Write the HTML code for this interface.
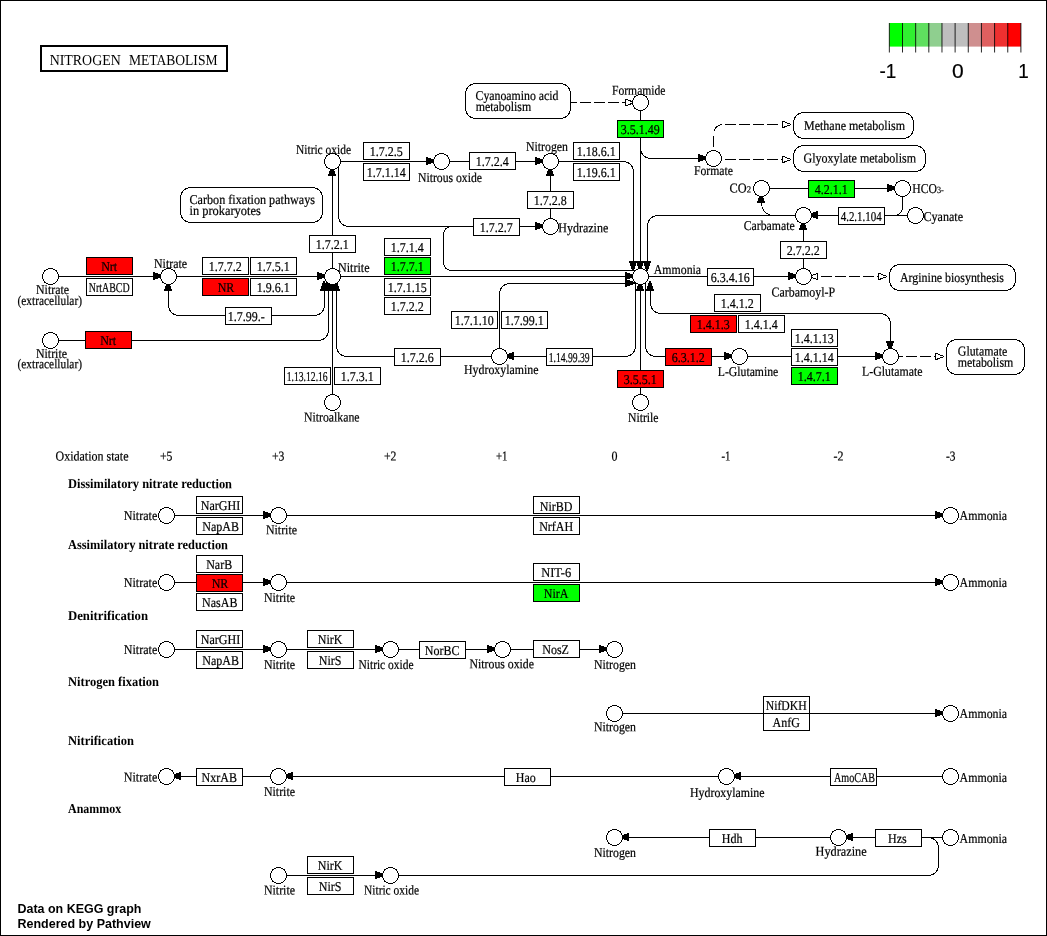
<!DOCTYPE html>
<html lang="en"><head><meta charset="utf-8"><title>Nitrogen metabolism</title>
<style>
html,body{margin:0;padding:0;background:#fff;}
body{width:1047px;height:936px;overflow:hidden;}
svg{display:block;will-change:transform;}
text{font-family:"Liberation Serif","Times New Roman",serif;font-size:13.5px;fill:#000;stroke:#000;stroke-width:0.2px;}
.ln{fill:none;stroke:#000;stroke-width:1;shape-rendering:crispEdges;}
.cv{fill:none;stroke:#000;stroke-width:1;shape-rendering:crispEdges;}
.bx{stroke:#000;stroke-width:1;shape-rendering:crispEdges;}
.cp{fill:#fff;stroke:#000;stroke-width:1;shape-rendering:crispEdges;}
.mp{fill:#fff;stroke:#000;stroke-width:1;shape-rendering:crispEdges;}
.ah{fill:#000;stroke:none;shape-rendering:crispEdges;}
.oh{fill:#fff;stroke:#000;stroke-width:1;stroke-linejoin:bevel;shape-rendering:crispEdges;}
.b{font-weight:bold;stroke:none;}
.t{stroke:none;}
.sans{font-family:"Liberation Sans",Arial,Helvetica,sans-serif;}
</style></head><body>
<svg width="1047" height="936" viewBox="0 0 1047 936">
<rect x="0" y="0" width="1047" height="936" fill="#fff"/>
<rect x="0.5" y="0.5" width="1046" height="935" fill="none" stroke="#000" stroke-width="1" shape-rendering="crispEdges"/>
<g transform="translate(0.5,0.5)">
<path class="cv" d="M50 276 L168 276"/>
<path class="cv" d="M50 340 L318 340 A10 10 0 0 0 328 330 L328 285"/>
<path class="cv" d="M168 276 L332 276"/>
<path class="cv" d="M168 276 L168 305 A10 10 0 0 0 178 315 L314 315 A10 10 0 0 0 324 305 L324 285"/>
<path class="cv" d="M332 276 L332 161"/>
<path class="cv" d="M332 161 L550 161"/>
<path class="cv" d="M550 161 L623 161 A10 10 0 0 1 633 171 L633 268"/>
<path class="cv" d="M550 226 L550 161"/>
<path class="cv" d="M338 161 L338 216 A10 10 0 0 0 348 226 L550 226"/>
<path class="cv" d="M473 226 L451 226 A8 8 0 0 0 443 234 L443 262 A8 8 0 0 0 451 270 L633 270"/>
<path class="cv" d="M332 276 L640 276"/>
<path class="cv" d="M499 356 L499 293 A10 10 0 0 1 509 283 L631 283"/>
<path class="cv" d="M635 276 L635 346 A10 10 0 0 1 625 356 L499 356"/>
<path class="cv" d="M499 356 L346 356 A10 10 0 0 1 336 346 L336 285"/>
<path class="cv" d="M332 402 L332 276"/>
<path class="cv" d="M640 402 L640 276"/>
<path class="cv" d="M645 276 L645 346 A10 10 0 0 0 655 356 L739 356"/>
<path class="cv" d="M739 356 L890 356"/>
<path class="cv" d="M650 284 L650 303 A10 10 0 0 0 660 313 L880 313 A10 10 0 0 1 890 323 L890 356"/>
<path class="cv" d="M640 276 L803 276"/>
<path class="cv" d="M803 276 L803 215"/>
<path class="cv" d="M803 215 L657 215 A10 10 0 0 0 647 225 L647 268"/>
<path class="cv" d="M775 215 L773 215 A12 12 0 0 1 761 203 L761 188"/>
<path class="cv" d="M761 188 L902 188"/>
<path class="cv" d="M915 215 L803 215"/>
<path class="cv" d="M902 188 L902 207 A8 8 0 0 1 894 215 L888 215"/>
<path class="cv" d="M640 102 L640 276"/>
<path class="cv" d="M640 143 L640 148 A10 10 0 0 0 650 158 L713 158"/>
<path class="cv" d="M166 515 L950 515"/>
<path class="cv" d="M166 582 L950 582"/>
<path class="cv" d="M166 649 L614 649"/>
<path class="cv" d="M614 713 L950 713"/>
<path class="cv" d="M166 776 L950 776"/>
<path class="cv" d="M614 837 L950 837"/>
<path class="cv" d="M278 875 L928 875 A10 10 0 0 0 938 865 L938 847 A10 10 0 0 0 928 837 L924 837"/>
</g>
<g class="ln">
<path stroke-dasharray="11 3" d="M565.6 102.5 H626"/>
<path stroke-dasharray="0 4 11 3 11 3 11 3 11 3 11 5.2 11 3" d="M782 124.5 H723 A9.5 9.5 0 0 0 713.5 134 V147.5"/>
<path stroke-dasharray="11 3" d="M725 159.5 H782"/>
<path stroke-dasharray="11 3" d="M821 276.5 H878"/>
<path stroke-dasharray="11 3" d="M891.8 356.5 H935"/>
</g>
<g class="ah">
<polygon points="153,272 155,272 155,273 158,273 158,274 161,274 161,275 163,275 163,277 161,277 161,278 158,278 158,279 155,279 155,280 153,280"/>
<polygon points="317,272 319,272 319,273 322,273 322,274 325,274 325,275 327,275 327,277 325,277 325,278 322,278 322,279 319,279 319,280 317,280"/>
<polygon points="426,157 428,157 428,158 431,158 431,159 434,159 434,160 436,160 436,162 434,162 434,163 431,163 431,164 428,164 428,165 426,165"/>
<polygon points="535,157 537,157 537,158 540,158 540,159 543,159 543,160 545,160 545,162 543,162 543,163 540,163 540,164 537,164 537,165 535,165"/>
<polygon points="535,222 537,222 537,223 540,223 540,224 543,224 543,225 545,225 545,227 543,227 543,228 540,228 540,229 537,229 537,230 535,230"/>
<polygon points="164,291 164,289 165,289 165,286 166,286 166,283 167,283 167,281 169,281 169,283 170,283 170,286 171,286 171,289 172,289 172,291"/>
<polygon points="320,291 320,289 321,289 321,286 322,286 322,283 323,283 323,281 325,281 325,283 326,283 326,286 327,286 327,289 328,289 328,291"/>
<polygon points="324,291 324,289 325,289 325,286 326,286 326,283 327,283 327,281 329,281 329,283 330,283 330,286 331,286 331,289 332,289 332,291"/>
<polygon points="328,291 328,289 329,289 329,286 330,286 330,283 331,283 331,281 333,281 333,283 334,283 334,286 335,286 335,289 336,289 336,291"/>
<polygon points="332,291 332,289 333,289 333,286 334,286 334,283 335,283 335,281 337,281 337,283 338,283 338,286 339,286 339,289 340,289 340,291"/>
<polygon points="328,176 328,174 329,174 329,171 330,171 330,168 331,168 331,166 333,166 333,168 334,168 334,171 335,171 335,174 336,174 336,176"/>
<polygon points="546,176 546,174 547,174 547,171 548,171 548,168 549,168 549,166 551,166 551,168 552,168 552,171 553,171 553,174 554,174 554,176"/>
<polygon points="629,261 629,263 630,263 630,266 631,266 631,269 632,269 632,271 634,271 634,269 635,269 635,266 636,266 636,263 637,263 637,261"/>
<polygon points="636,261 636,263 637,263 637,266 638,266 638,269 639,269 639,271 641,271 641,269 642,269 642,266 643,266 643,263 644,263 644,261"/>
<polygon points="643,261 643,263 644,263 644,266 645,266 645,269 646,269 646,271 648,271 648,269 649,269 649,266 650,266 650,263 651,263 651,261"/>
<polygon points="625,272 627,272 627,273 630,273 630,274 633,274 633,275 635,275 635,277 633,277 633,278 630,278 630,279 627,279 627,280 625,280"/>
<polygon points="625,279 627,279 627,280 630,280 630,281 633,281 633,282 635,282 635,284 633,284 633,285 630,285 630,286 627,286 627,287 625,287"/>
<polygon points="636,291 636,289 637,289 637,286 638,286 638,283 639,283 639,281 641,281 641,283 642,283 642,286 643,286 643,289 644,289 644,291"/>
<polygon points="646,291 646,289 647,289 647,286 648,286 648,283 649,283 649,281 651,281 651,283 652,283 652,286 653,286 653,289 654,289 654,291"/>
<polygon points="514,352 512,352 512,353 509,353 509,354 506,354 506,355 504,355 504,357 506,357 506,358 509,358 509,359 512,359 512,360 514,360"/>
<polygon points="724,352 726,352 726,353 729,353 729,354 732,354 732,355 734,355 734,357 732,357 732,358 729,358 729,359 726,359 726,360 724,360"/>
<polygon points="875,352 877,352 877,353 880,353 880,354 883,354 883,355 885,355 885,357 883,357 883,358 880,358 880,359 877,359 877,360 875,360"/>
<polygon points="886,341 886,343 887,343 887,346 888,346 888,349 889,349 889,351 891,351 891,349 892,349 892,346 893,346 893,343 894,343 894,341"/>
<polygon points="788,272 790,272 790,273 793,273 793,274 796,274 796,275 798,275 798,277 796,277 796,278 793,278 793,279 790,279 790,280 788,280"/>
<polygon points="799,230 799,228 800,228 800,225 801,225 801,222 802,222 802,220 804,220 804,222 805,222 805,225 806,225 806,228 807,228 807,230"/>
<polygon points="818,211 816,211 816,212 813,212 813,213 810,213 810,214 808,214 808,216 810,216 810,217 813,217 813,218 816,218 816,219 818,219"/>
<polygon points="757,203 757,201 758,201 758,198 759,198 759,195 760,195 760,193 762,193 762,195 763,195 763,198 764,198 764,201 765,201 765,203"/>
<polygon points="887,184 889,184 889,185 892,185 892,186 895,186 895,187 897,187 897,189 895,189 895,190 892,190 892,191 889,191 889,192 887,192"/>
<polygon points="698,154 700,154 700,155 703,155 703,156 706,156 706,157 708,157 708,159 706,159 706,160 703,160 703,161 700,161 700,162 698,162"/>
<polygon points="263,511 265,511 265,512 268,512 268,513 271,513 271,514 273,514 273,516 271,516 271,517 268,517 268,518 265,518 265,519 263,519"/>
<polygon points="935,511 937,511 937,512 940,512 940,513 943,513 943,514 945,514 945,516 943,516 943,517 940,517 940,518 937,518 937,519 935,519"/>
<polygon points="263,578 265,578 265,579 268,579 268,580 271,580 271,581 273,581 273,583 271,583 271,584 268,584 268,585 265,585 265,586 263,586"/>
<polygon points="935,578 937,578 937,579 940,579 940,580 943,580 943,581 945,581 945,583 943,583 943,584 940,584 940,585 937,585 937,586 935,586"/>
<polygon points="263,645 265,645 265,646 268,646 268,647 271,647 271,648 273,648 273,650 271,650 271,651 268,651 268,652 265,652 265,653 263,653"/>
<polygon points="375,645 377,645 377,646 380,646 380,647 383,647 383,648 385,648 385,650 383,650 383,651 380,651 380,652 377,652 377,653 375,653"/>
<polygon points="487,645 489,645 489,646 492,646 492,647 495,647 495,648 497,648 497,650 495,650 495,651 492,651 492,652 489,652 489,653 487,653"/>
<polygon points="599,645 601,645 601,646 604,646 604,647 607,647 607,648 609,648 609,650 607,650 607,651 604,651 604,652 601,652 601,653 599,653"/>
<polygon points="935,709 937,709 937,710 940,710 940,711 943,711 943,712 945,712 945,714 943,714 943,715 940,715 940,716 937,716 937,717 935,717"/>
<polygon points="181,772 179,772 179,773 176,773 176,774 173,774 173,775 171,775 171,777 173,777 173,778 176,778 176,779 179,779 179,780 181,780"/>
<polygon points="293,772 291,772 291,773 288,773 288,774 285,774 285,775 283,775 283,777 285,777 285,778 288,778 288,779 291,779 291,780 293,780"/>
<polygon points="741,772 739,772 739,773 736,773 736,774 733,774 733,775 731,775 731,777 733,777 733,778 736,778 736,779 739,779 739,780 741,780"/>
<polygon points="629,833 627,833 627,834 624,834 624,835 621,835 621,836 619,836 619,838 621,838 621,839 624,839 624,840 627,840 627,841 629,841"/>
<polygon points="853,833 851,833 851,834 848,834 848,835 845,835 845,836 843,836 843,838 845,838 845,839 848,839 848,840 851,840 851,841 853,841"/>
<polygon points="375,871 377,871 377,872 380,872 380,873 383,873 383,874 385,874 385,876 383,876 383,877 380,877 380,878 377,878 377,879 375,879"/>
</g>
<g class="oh">
<polygon points="625.5,99.1 625.5,105.9 634.5,102.5"/>
<polygon points="782.2,121.1 782.2,127.9 791.2,124.5"/>
<polygon points="782.2,156.1 782.2,162.9 791.2,159.5"/>
<polygon points="878.2,273.1 878.2,279.9 887.2,276.5"/>
<polygon points="817.6,273.3 817.6,279.7 808.6,276.5"/>
<polygon points="935.2,353.1 935.2,359.9 944.2,356.5"/>
</g>
<g class="cp">
<circle cx="50.5" cy="276.5" r="8"/>
<circle cx="50.5" cy="340.5" r="8"/>
<circle cx="168.5" cy="276.5" r="8"/>
<circle cx="332.5" cy="276.5" r="8"/>
<circle cx="332.5" cy="161.5" r="8"/>
<circle cx="441.5" cy="161.5" r="8"/>
<circle cx="550.5" cy="161.5" r="8"/>
<circle cx="550.5" cy="226.5" r="8"/>
<circle cx="640.5" cy="102.5" r="8"/>
<circle cx="713.5" cy="158.5" r="8"/>
<circle cx="761.5" cy="188.5" r="8"/>
<circle cx="902.5" cy="188.5" r="8"/>
<circle cx="803.5" cy="215.5" r="8"/>
<circle cx="915.5" cy="215.5" r="8"/>
<circle cx="640.5" cy="276.5" r="8"/>
<circle cx="803.5" cy="276.5" r="8"/>
<circle cx="499.5" cy="356.5" r="8"/>
<circle cx="739.5" cy="356.5" r="8"/>
<circle cx="890.5" cy="356.5" r="8"/>
<circle cx="332.5" cy="402.5" r="8"/>
<circle cx="640.5" cy="402.5" r="8"/>
<circle cx="166.5" cy="515.5" r="8"/>
<circle cx="278.5" cy="515.5" r="8"/>
<circle cx="950.5" cy="515.5" r="8"/>
<circle cx="166.5" cy="582.5" r="8"/>
<circle cx="278.5" cy="582.5" r="8"/>
<circle cx="950.5" cy="582.5" r="8"/>
<circle cx="166.5" cy="649.5" r="8"/>
<circle cx="278.5" cy="649.5" r="8"/>
<circle cx="390.5" cy="649.5" r="8"/>
<circle cx="502.5" cy="649.5" r="8"/>
<circle cx="614.5" cy="649.5" r="8"/>
<circle cx="614.5" cy="713.5" r="8"/>
<circle cx="950.5" cy="713.5" r="8"/>
<circle cx="166.5" cy="776.5" r="8"/>
<circle cx="278.5" cy="776.5" r="8"/>
<circle cx="726.5" cy="776.5" r="8"/>
<circle cx="950.5" cy="776.5" r="8"/>
<circle cx="614.5" cy="837.5" r="8"/>
<circle cx="838.5" cy="837.5" r="8"/>
<circle cx="950.5" cy="837.5" r="8"/>
<circle cx="278.5" cy="875.5" r="8"/>
<circle cx="390.5" cy="875.5" r="8"/>
</g>
<g class="mp">
<rect x="180.5" y="187.5" width="142" height="35" rx="10" ry="10"/>
<rect x="465.5" y="83.5" width="105" height="35" rx="10" ry="10"/>
<rect x="793.5" y="112.5" width="120" height="26" rx="10" ry="10"/>
<rect x="793.5" y="145.5" width="132" height="26" rx="10" ry="10"/>
<rect x="889.5" y="264.5" width="126" height="26" rx="10" ry="10"/>
<rect x="946.5" y="339.5" width="78" height="35" rx="10" ry="10"/>
</g>
<rect x="41" y="46" width="186" height="25" fill="#fff" stroke="#000" stroke-width="2" shape-rendering="crispEdges"/>
<text transform="rotate(0.05 49.7 65)" x="49.7" y="65" class="t" style="font-size:15.2px" textLength="71" lengthAdjust="spacingAndGlyphs">NITROGEN</text>
<text transform="rotate(0.05 128.9 65)" x="128.9" y="65" class="t" style="font-size:15.2px" textLength="88.6" lengthAdjust="spacingAndGlyphs">METABOLISM</text>
<g>
<rect class="bx" x="86.5" y="257.5" width="46" height="17" fill="#ff0000"/>
<rect class="bx" x="86.5" y="278.5" width="46" height="17" fill="#fff"/>
<rect class="bx" x="85.5" y="331.5" width="46" height="17" fill="#ff0000"/>
<rect class="bx" x="202.5" y="257.5" width="46" height="17" fill="#fff"/>
<rect class="bx" x="250.5" y="257.5" width="46" height="17" fill="#fff"/>
<rect class="bx" x="202.5" y="278.5" width="46" height="17" fill="#ff0000"/>
<rect class="bx" x="250.5" y="278.5" width="46" height="17" fill="#fff"/>
<rect class="bx" x="225.5" y="307.5" width="46" height="17" fill="#fff"/>
<rect class="bx" x="309.5" y="235.5" width="46" height="17" fill="#fff"/>
<rect class="bx" x="363.5" y="142.5" width="46" height="17" fill="#fff"/>
<rect class="bx" x="363.5" y="163.5" width="46" height="17" fill="#fff"/>
<rect class="bx" x="469.5" y="152.5" width="46" height="17" fill="#fff"/>
<rect class="bx" x="473.5" y="218.5" width="46" height="17" fill="#fff"/>
<rect class="bx" x="527.5" y="191.5" width="46" height="17" fill="#fff"/>
<rect class="bx" x="573.5" y="142.5" width="46" height="17" fill="#fff"/>
<rect class="bx" x="573.5" y="163.5" width="46" height="17" fill="#fff"/>
<rect class="bx" x="617.5" y="120.5" width="46" height="17" fill="#00ff00"/>
<rect class="bx" x="384.5" y="238.5" width="46" height="17" fill="#fff"/>
<rect class="bx" x="384.5" y="257.5" width="46" height="17" fill="#00ff00"/>
<rect class="bx" x="384.5" y="278.5" width="46" height="17" fill="#fff"/>
<rect class="bx" x="384.5" y="297.5" width="46" height="17" fill="#fff"/>
<rect class="bx" x="451.5" y="311.5" width="46" height="17" fill="#fff"/>
<rect class="bx" x="501.5" y="311.5" width="46" height="17" fill="#fff"/>
<rect class="bx" x="394.5" y="348.5" width="46" height="17" fill="#fff"/>
<rect class="bx" x="546.5" y="348.5" width="46" height="17" fill="#fff"/>
<rect class="bx" x="284.5" y="367.5" width="46" height="17" fill="#fff"/>
<rect class="bx" x="334.5" y="367.5" width="46" height="17" fill="#fff"/>
<rect class="bx" x="617.5" y="370.5" width="46" height="17" fill="#ff0000"/>
<rect class="bx" x="665.5" y="348.5" width="46" height="17" fill="#ff0000"/>
<rect class="bx" x="707.5" y="268.5" width="46" height="17" fill="#fff"/>
<rect class="bx" x="714.5" y="294.5" width="46" height="17" fill="#fff"/>
<rect class="bx" x="690.5" y="315.5" width="46" height="17" fill="#ff0000"/>
<rect class="bx" x="738.5" y="315.5" width="46" height="17" fill="#fff"/>
<rect class="bx" x="791.5" y="329.5" width="46" height="17" fill="#fff"/>
<rect class="bx" x="791.5" y="348.5" width="46" height="17" fill="#fff"/>
<rect class="bx" x="791.5" y="367.5" width="46" height="17" fill="#00ff00"/>
<rect class="bx" x="780.5" y="241.5" width="46" height="17" fill="#fff"/>
<rect class="bx" x="808.5" y="180.5" width="46" height="17" fill="#00ff00"/>
<rect class="bx" x="838.5" y="207.5" width="46" height="17" fill="#fff"/>
<rect class="bx" x="196.5" y="496.5" width="46" height="17" fill="#fff"/>
<rect class="bx" x="196.5" y="517.5" width="46" height="17" fill="#fff"/>
<rect class="bx" x="533.5" y="496.5" width="46" height="17" fill="#fff"/>
<rect class="bx" x="533.5" y="517.5" width="46" height="17" fill="#fff"/>
<rect class="bx" x="196.5" y="555.5" width="46" height="17" fill="#fff"/>
<rect class="bx" x="196.5" y="574.5" width="46" height="17" fill="#ff0000"/>
<rect class="bx" x="196.5" y="593.5" width="46" height="17" fill="#fff"/>
<rect class="bx" x="533.5" y="563.5" width="46" height="17" fill="#fff"/>
<rect class="bx" x="533.5" y="584.5" width="46" height="17" fill="#00ff00"/>
<rect class="bx" x="196.5" y="630.5" width="46" height="17" fill="#fff"/>
<rect class="bx" x="196.5" y="651.5" width="46" height="17" fill="#fff"/>
<rect class="bx" x="307.5" y="630.5" width="46" height="17" fill="#fff"/>
<rect class="bx" x="307.5" y="651.5" width="46" height="17" fill="#fff"/>
<rect class="bx" x="419.5" y="641.5" width="46" height="17" fill="#fff"/>
<rect class="bx" x="533.5" y="640.5" width="46" height="17" fill="#fff"/>
<rect class="bx" x="763.5" y="696.5" width="46" height="17" fill="#fff"/>
<rect class="bx" x="763.5" y="713.5" width="46" height="17" fill="#fff"/>
<rect class="bx" x="196.5" y="768.5" width="46" height="17" fill="#fff"/>
<rect class="bx" x="504.5" y="768.5" width="46" height="17" fill="#fff"/>
<rect class="bx" x="830.5" y="768.5" width="46" height="17" fill="#fff"/>
<rect class="bx" x="709.5" y="829.5" width="46" height="17" fill="#fff"/>
<rect class="bx" x="875.5" y="829.5" width="46" height="17" fill="#fff"/>
<rect class="bx" x="307.5" y="856.5" width="46" height="17" fill="#fff"/>
<rect class="bx" x="307.5" y="877.5" width="46" height="17" fill="#fff"/>
</g>
<g>
<text transform="rotate(0.05 109.2 271)" x="109.2" y="271" text-anchor="middle" textLength="16" lengthAdjust="spacingAndGlyphs">Nrt</text>
<text transform="rotate(0.05 109.2 292)" x="109.2" y="292" text-anchor="middle" textLength="41" lengthAdjust="spacingAndGlyphs">NrtABCD</text>
<text transform="rotate(0.05 108.2 345)" x="108.2" y="345" text-anchor="middle" textLength="16" lengthAdjust="spacingAndGlyphs">Nrt</text>
<text transform="rotate(0.05 225.2 271)" x="225.2" y="271" text-anchor="middle" textLength="33" lengthAdjust="spacingAndGlyphs">1.7.7.2</text>
<text transform="rotate(0.05 273.2 271)" x="273.2" y="271" text-anchor="middle" textLength="33" lengthAdjust="spacingAndGlyphs">1.7.5.1</text>
<text transform="rotate(0.05 226 292)" x="226" y="292" text-anchor="middle" textLength="16.7" lengthAdjust="spacingAndGlyphs">NR</text>
<text transform="rotate(0.05 273.2 292)" x="273.2" y="292" text-anchor="middle" textLength="33" lengthAdjust="spacingAndGlyphs">1.9.6.1</text>
<text transform="rotate(0.05 246.2 321)" x="246.2" y="321" text-anchor="middle" textLength="37" lengthAdjust="spacingAndGlyphs">1.7.99.-</text>
<text transform="rotate(0.05 332.2 249)" x="332.2" y="249" text-anchor="middle" textLength="33" lengthAdjust="spacingAndGlyphs">1.7.2.1</text>
<text transform="rotate(0.05 386.2 156)" x="386.2" y="156" text-anchor="middle" textLength="33" lengthAdjust="spacingAndGlyphs">1.7.2.5</text>
<text transform="rotate(0.05 386.2 177)" x="386.2" y="177" text-anchor="middle" textLength="39" lengthAdjust="spacingAndGlyphs">1.7.1.14</text>
<text transform="rotate(0.05 492.2 166)" x="492.2" y="166" text-anchor="middle" textLength="33" lengthAdjust="spacingAndGlyphs">1.7.2.4</text>
<text transform="rotate(0.05 496.2 232)" x="496.2" y="232" text-anchor="middle" textLength="33" lengthAdjust="spacingAndGlyphs">1.7.2.7</text>
<text transform="rotate(0.05 550.2 205)" x="550.2" y="205" text-anchor="middle" textLength="33" lengthAdjust="spacingAndGlyphs">1.7.2.8</text>
<text transform="rotate(0.05 596.2 156)" x="596.2" y="156" text-anchor="middle" textLength="39" lengthAdjust="spacingAndGlyphs">1.18.6.1</text>
<text transform="rotate(0.05 596.2 177)" x="596.2" y="177" text-anchor="middle" textLength="39" lengthAdjust="spacingAndGlyphs">1.19.6.1</text>
<text transform="rotate(0.05 640.2 134)" x="640.2" y="134" text-anchor="middle" textLength="39" lengthAdjust="spacingAndGlyphs">3.5.1.49</text>
<text transform="rotate(0.05 407.2 252)" x="407.2" y="252" text-anchor="middle" textLength="33" lengthAdjust="spacingAndGlyphs">1.7.1.4</text>
<text transform="rotate(0.05 407.2 271)" x="407.2" y="271" text-anchor="middle" textLength="33" lengthAdjust="spacingAndGlyphs">1.7.7.1</text>
<text transform="rotate(0.05 407.2 292)" x="407.2" y="292" text-anchor="middle" textLength="39" lengthAdjust="spacingAndGlyphs">1.7.1.15</text>
<text transform="rotate(0.05 407.2 311)" x="407.2" y="311" text-anchor="middle" textLength="33" lengthAdjust="spacingAndGlyphs">1.7.2.2</text>
<text transform="rotate(0.05 474.2 325)" x="474.2" y="325" text-anchor="middle" textLength="39" lengthAdjust="spacingAndGlyphs">1.7.1.10</text>
<text transform="rotate(0.05 524.2 325)" x="524.2" y="325" text-anchor="middle" textLength="39" lengthAdjust="spacingAndGlyphs">1.7.99.1</text>
<text transform="rotate(0.05 417.2 362)" x="417.2" y="362" text-anchor="middle" textLength="33" lengthAdjust="spacingAndGlyphs">1.7.2.6</text>
<text transform="rotate(0.05 569.2 362)" x="569.2" y="362" text-anchor="middle" textLength="41" lengthAdjust="spacingAndGlyphs">1.14.99.39</text>
<text transform="rotate(0.05 307.2 381)" x="307.2" y="381" text-anchor="middle" textLength="41" lengthAdjust="spacingAndGlyphs">1.13.12.16</text>
<text transform="rotate(0.05 357.2 381)" x="357.2" y="381" text-anchor="middle" textLength="33" lengthAdjust="spacingAndGlyphs">1.7.3.1</text>
<text transform="rotate(0.05 640.2 384)" x="640.2" y="384" text-anchor="middle" textLength="33" lengthAdjust="spacingAndGlyphs">3.5.5.1</text>
<text transform="rotate(0.05 688.2 362)" x="688.2" y="362" text-anchor="middle" textLength="33" lengthAdjust="spacingAndGlyphs">6.3.1.2</text>
<text transform="rotate(0.05 730.2 282)" x="730.2" y="282" text-anchor="middle" textLength="39" lengthAdjust="spacingAndGlyphs">6.3.4.16</text>
<text transform="rotate(0.05 737.2 308)" x="737.2" y="308" text-anchor="middle" textLength="33" lengthAdjust="spacingAndGlyphs">1.4.1.2</text>
<text transform="rotate(0.05 713.2 329)" x="713.2" y="329" text-anchor="middle" textLength="33" lengthAdjust="spacingAndGlyphs">1.4.1.3</text>
<text transform="rotate(0.05 761.2 329)" x="761.2" y="329" text-anchor="middle" textLength="33" lengthAdjust="spacingAndGlyphs">1.4.1.4</text>
<text transform="rotate(0.05 814.2 343)" x="814.2" y="343" text-anchor="middle" textLength="39" lengthAdjust="spacingAndGlyphs">1.4.1.13</text>
<text transform="rotate(0.05 814.2 362)" x="814.2" y="362" text-anchor="middle" textLength="39" lengthAdjust="spacingAndGlyphs">1.4.1.14</text>
<text transform="rotate(0.05 814.2 381)" x="814.2" y="381" text-anchor="middle" textLength="33" lengthAdjust="spacingAndGlyphs">1.4.7.1</text>
<text transform="rotate(0.05 803.2 255)" x="803.2" y="255" text-anchor="middle" textLength="33" lengthAdjust="spacingAndGlyphs">2.7.2.2</text>
<text transform="rotate(0.05 831.2 194)" x="831.2" y="194" text-anchor="middle" textLength="33" lengthAdjust="spacingAndGlyphs">4.2.1.1</text>
<text transform="rotate(0.05 861.2 221)" x="861.2" y="221" text-anchor="middle" textLength="41" lengthAdjust="spacingAndGlyphs">4.2.1.104</text>
<text transform="rotate(0.05 220.5 510)" x="220.5" y="510" text-anchor="middle" textLength="39.4" lengthAdjust="spacingAndGlyphs">NarGHI</text>
<text transform="rotate(0.05 220.7 531)" x="220.7" y="531" text-anchor="middle" textLength="36.7" lengthAdjust="spacingAndGlyphs">NapAB</text>
<text transform="rotate(0.05 556.2 511)" x="556.2" y="511" text-anchor="middle" textLength="32.7" lengthAdjust="spacingAndGlyphs">NirBD</text>
<text transform="rotate(0.05 556.2 531)" x="556.2" y="531" text-anchor="middle" textLength="34" lengthAdjust="spacingAndGlyphs">NrfAH</text>
<text transform="rotate(0.05 219.2 569)" x="219.2" y="569" text-anchor="middle" textLength="26" lengthAdjust="spacingAndGlyphs">NarB</text>
<text transform="rotate(0.05 220 588)" x="220" y="588" text-anchor="middle" textLength="16.7" lengthAdjust="spacingAndGlyphs">NR</text>
<text transform="rotate(0.05 219.7 607)" x="219.7" y="607" text-anchor="middle" textLength="35.4" lengthAdjust="spacingAndGlyphs">NasAB</text>
<text transform="rotate(0.05 556.2 577)" x="556.2" y="577" text-anchor="middle" textLength="30" lengthAdjust="spacingAndGlyphs">NIT-6</text>
<text transform="rotate(0.05 556.2 598)" x="556.2" y="598" text-anchor="middle" textLength="24.7" lengthAdjust="spacingAndGlyphs">NirA</text>
<text transform="rotate(0.05 220.5 644)" x="220.5" y="644" text-anchor="middle" textLength="39.4" lengthAdjust="spacingAndGlyphs">NarGHI</text>
<text transform="rotate(0.05 220.7 665)" x="220.7" y="665" text-anchor="middle" textLength="36.7" lengthAdjust="spacingAndGlyphs">NapAB</text>
<text transform="rotate(0.05 330.2 644)" x="330.2" y="644" text-anchor="middle" textLength="24.7" lengthAdjust="spacingAndGlyphs">NirK</text>
<text transform="rotate(0.05 330.2 665)" x="330.2" y="665" text-anchor="middle" textLength="22.7" lengthAdjust="spacingAndGlyphs">NirS</text>
<text transform="rotate(0.05 442.2 655)" x="442.2" y="655" text-anchor="middle" textLength="34.7" lengthAdjust="spacingAndGlyphs">NorBC</text>
<text transform="rotate(0.05 555.6 654)" x="555.6" y="654" text-anchor="middle" textLength="26.7" lengthAdjust="spacingAndGlyphs">NosZ</text>
<text transform="rotate(0.05 786.2 710)" x="786.2" y="710" text-anchor="middle" textLength="41" lengthAdjust="spacingAndGlyphs">NifDKH</text>
<text transform="rotate(0.05 786.2 727)" x="786.2" y="727" text-anchor="middle" textLength="27.4" lengthAdjust="spacingAndGlyphs">AnfG</text>
<text transform="rotate(0.05 219.2 782)" x="219.2" y="782" text-anchor="middle" textLength="35.4" lengthAdjust="spacingAndGlyphs">NxrAB</text>
<text transform="rotate(0.05 525.8 782)" x="525.8" y="782" text-anchor="middle" textLength="20" lengthAdjust="spacingAndGlyphs">Hao</text>
<text transform="rotate(0.05 854.5 782)" x="854.5" y="782" text-anchor="middle" textLength="41" lengthAdjust="spacingAndGlyphs">AmoCAB</text>
<text transform="rotate(0.05 732.2 843)" x="732.2" y="843" text-anchor="middle" textLength="20.7" lengthAdjust="spacingAndGlyphs">Hdh</text>
<text transform="rotate(0.05 897.4 843)" x="897.4" y="843" text-anchor="middle" textLength="18.7" lengthAdjust="spacingAndGlyphs">Hzs</text>
<text transform="rotate(0.05 330.2 870)" x="330.2" y="870" text-anchor="middle" textLength="24.7" lengthAdjust="spacingAndGlyphs">NirK</text>
<text transform="rotate(0.05 330.2 891)" x="330.2" y="891" text-anchor="middle" textLength="22.7" lengthAdjust="spacingAndGlyphs">NirS</text>
</g>
<g>
<text transform="rotate(0.05 189.5 204)" x="189.5" y="204" textLength="125.5" lengthAdjust="spacingAndGlyphs">Carbon fixation pathways</text>
<text transform="rotate(0.05 189.5 215)" x="189.5" y="215" textLength="71.2" lengthAdjust="spacingAndGlyphs">in prokaryotes</text>
<text transform="rotate(0.05 475.5 100)" x="475.5" y="100" textLength="83" lengthAdjust="spacingAndGlyphs">Cyanoamino acid</text>
<text transform="rotate(0.05 475.7 111)" x="475.7" y="111" textLength="55.5" lengthAdjust="spacingAndGlyphs">metabolism</text>
<text transform="rotate(0.05 804 130)" x="804" y="130" textLength="101" lengthAdjust="spacingAndGlyphs">Methane metabolism</text>
<text transform="rotate(0.05 803.5 162.5)" x="803.5" y="162.5" textLength="112.5" lengthAdjust="spacingAndGlyphs">Glyoxylate metabolism</text>
<text transform="rotate(0.05 900 282)" x="900" y="282" textLength="104" lengthAdjust="spacingAndGlyphs">Arginine biosynthesis</text>
<text transform="rotate(0.05 957.8 355.6)" x="957.8" y="355.6" textLength="49.5" lengthAdjust="spacingAndGlyphs">Glutamate</text>
<text transform="rotate(0.05 957.8 366.8)" x="957.8" y="366.8" textLength="55.5" lengthAdjust="spacingAndGlyphs">metabolism</text>
<text transform="rotate(0.05 296 154)" x="296" y="154" textLength="55" lengthAdjust="spacingAndGlyphs">Nitric oxide</text>
<text transform="rotate(0.05 418 182)" x="418" y="182" textLength="64" lengthAdjust="spacingAndGlyphs">Nitrous oxide</text>
<text transform="rotate(0.05 526 151)" x="526" y="151" textLength="42" lengthAdjust="spacingAndGlyphs">Nitrogen</text>
<text transform="rotate(0.05 558.3 232.3)" x="558.3" y="232.3" textLength="50" lengthAdjust="spacingAndGlyphs">Hydrazine</text>
<text transform="rotate(0.05 612 94.8)" x="612" y="94.8" textLength="53.5" lengthAdjust="spacingAndGlyphs">Formamide</text>
<text transform="rotate(0.05 694 174.9)" x="694" y="174.9" textLength="39" lengthAdjust="spacingAndGlyphs">Formate</text>
<text transform="rotate(0.05 743.7 229.9)" x="743.7" y="229.9" textLength="51" lengthAdjust="spacingAndGlyphs">Carbamate</text>
<text transform="rotate(0.05 923.5 221)" x="923.5" y="221" textLength="39.5" lengthAdjust="spacingAndGlyphs">Cyanate</text>
<text transform="rotate(0.05 36 294)" x="36" y="294" textLength="33" lengthAdjust="spacingAndGlyphs">Nitrate</text>
<text transform="rotate(0.05 17.5 305)" x="17.5" y="305" textLength="64.5" lengthAdjust="spacingAndGlyphs">(extracellular)</text>
<text transform="rotate(0.05 36 358)" x="36" y="358" textLength="31" lengthAdjust="spacingAndGlyphs">Nitrite</text>
<text transform="rotate(0.05 17.5 368.3)" x="17.5" y="368.3" textLength="64.5" lengthAdjust="spacingAndGlyphs">(extracellular)</text>
<text transform="rotate(0.05 154 268)" x="154" y="268" textLength="33" lengthAdjust="spacingAndGlyphs">Nitrate</text>
<text transform="rotate(0.05 338 272)" x="338" y="272" textLength="31.5" lengthAdjust="spacingAndGlyphs">Nitrite</text>
<text transform="rotate(0.05 653.8 274)" x="653.8" y="274" textLength="47.3" lengthAdjust="spacingAndGlyphs">Ammonia</text>
<text transform="rotate(0.05 771.6 296.5)" x="771.6" y="296.5" textLength="63.5" lengthAdjust="spacingAndGlyphs">Carbamoyl-P</text>
<text transform="rotate(0.05 464 374)" x="464" y="374" textLength="74.5" lengthAdjust="spacingAndGlyphs">Hydroxylamine</text>
<text transform="rotate(0.05 717.8 376)" x="717.8" y="376" textLength="60.5" lengthAdjust="spacingAndGlyphs">L-Glutamine</text>
<text transform="rotate(0.05 862.1 375.7)" x="862.1" y="375.7" textLength="60.5" lengthAdjust="spacingAndGlyphs">L-Glutamate</text>
<text transform="rotate(0.05 304 421.5)" x="304" y="421.5" textLength="55.5" lengthAdjust="spacingAndGlyphs">Nitroalkane</text>
<text transform="rotate(0.05 628 421.9)" x="628" y="421.9" textLength="30.5" lengthAdjust="spacingAndGlyphs">Nitrile</text>
<text transform="rotate(0.05 55.5 460.5)" x="55.5" y="460.5" textLength="73" lengthAdjust="spacingAndGlyphs">Oxidation state</text>
<text transform="rotate(0.05 160 460.5)" x="160" y="460.5" textLength="12.5" lengthAdjust="spacingAndGlyphs">+5</text>
<text transform="rotate(0.05 272 460.5)" x="272" y="460.5" textLength="12.5" lengthAdjust="spacingAndGlyphs">+3</text>
<text transform="rotate(0.05 384 460.5)" x="384" y="460.5" textLength="12.5" lengthAdjust="spacingAndGlyphs">+2</text>
<text transform="rotate(0.05 496 460.5)" x="496" y="460.5" textLength="11.5" lengthAdjust="spacingAndGlyphs">+1</text>
<text transform="rotate(0.05 611.5 460.5)" x="611.5" y="460.5" textLength="6" lengthAdjust="spacingAndGlyphs">0</text>
<text transform="rotate(0.05 721.5 460.5)" x="721.5" y="460.5" textLength="9" lengthAdjust="spacingAndGlyphs">-1</text>
<text transform="rotate(0.05 833.5 460.5)" x="833.5" y="460.5" textLength="10" lengthAdjust="spacingAndGlyphs">-2</text>
<text transform="rotate(0.05 946 460.5)" x="946" y="460.5" textLength="9.5" lengthAdjust="spacingAndGlyphs">-3</text>
<text transform="rotate(0.05 68 488)" x="68" y="488" class="b" textLength="164" lengthAdjust="spacingAndGlyphs">Dissimilatory nitrate reduction</text>
<text transform="rotate(0.05 68 549)" x="68" y="549" class="b" textLength="160" lengthAdjust="spacingAndGlyphs">Assimilatory nitrate reduction</text>
<text transform="rotate(0.05 68 620)" x="68" y="620" class="b" textLength="80" lengthAdjust="spacingAndGlyphs">Denitrification</text>
<text transform="rotate(0.05 68 686)" x="68" y="686" class="b" textLength="91" lengthAdjust="spacingAndGlyphs">Nitrogen fixation</text>
<text transform="rotate(0.05 68 745)" x="68" y="745" class="b" textLength="66" lengthAdjust="spacingAndGlyphs">Nitrification</text>
<text transform="rotate(0.05 68 813)" x="68" y="813" class="b" textLength="53.2" lengthAdjust="spacingAndGlyphs">Anammox</text>
<text transform="rotate(0.05 123.8 520)" x="123.8" y="520" textLength="33.5" lengthAdjust="spacingAndGlyphs">Nitrate</text>
<text transform="rotate(0.05 266 534.2)" x="266" y="534.2" textLength="31" lengthAdjust="spacingAndGlyphs">Nitrite</text>
<text transform="rotate(0.05 959.6 520)" x="959.6" y="520" textLength="47.5" lengthAdjust="spacingAndGlyphs">Ammonia</text>
<text transform="rotate(0.05 123.8 587)" x="123.8" y="587" textLength="33.5" lengthAdjust="spacingAndGlyphs">Nitrate</text>
<text transform="rotate(0.05 264 602)" x="264" y="602" textLength="31" lengthAdjust="spacingAndGlyphs">Nitrite</text>
<text transform="rotate(0.05 959.6 587)" x="959.6" y="587" textLength="47.5" lengthAdjust="spacingAndGlyphs">Ammonia</text>
<text transform="rotate(0.05 123.8 654)" x="123.8" y="654" textLength="33.5" lengthAdjust="spacingAndGlyphs">Nitrate</text>
<text transform="rotate(0.05 264 669)" x="264" y="669" textLength="31" lengthAdjust="spacingAndGlyphs">Nitrite</text>
<text transform="rotate(0.05 358.5 669)" x="358.5" y="669" textLength="55" lengthAdjust="spacingAndGlyphs">Nitric oxide</text>
<text transform="rotate(0.05 469.5 668.2)" x="469.5" y="668.2" textLength="64.5" lengthAdjust="spacingAndGlyphs">Nitrous oxide</text>
<text transform="rotate(0.05 594 669)" x="594" y="669" textLength="42" lengthAdjust="spacingAndGlyphs">Nitrogen</text>
<text transform="rotate(0.05 594 731.3)" x="594" y="731.3" textLength="42" lengthAdjust="spacingAndGlyphs">Nitrogen</text>
<text transform="rotate(0.05 959.6 718)" x="959.6" y="718" textLength="47.5" lengthAdjust="spacingAndGlyphs">Ammonia</text>
<text transform="rotate(0.05 123.8 781.5)" x="123.8" y="781.5" textLength="33.5" lengthAdjust="spacingAndGlyphs">Nitrate</text>
<text transform="rotate(0.05 264 796)" x="264" y="796" textLength="31" lengthAdjust="spacingAndGlyphs">Nitrite</text>
<text transform="rotate(0.05 690 797)" x="690" y="797" textLength="74.5" lengthAdjust="spacingAndGlyphs">Hydroxylamine</text>
<text transform="rotate(0.05 959.6 782)" x="959.6" y="782" textLength="47.5" lengthAdjust="spacingAndGlyphs">Ammonia</text>
<text transform="rotate(0.05 594 857)" x="594" y="857" textLength="42" lengthAdjust="spacingAndGlyphs">Nitrogen</text>
<text transform="rotate(0.05 815.6 855.8)" x="815.6" y="855.8" textLength="51" lengthAdjust="spacingAndGlyphs">Hydrazine</text>
<text transform="rotate(0.05 959.6 843)" x="959.6" y="843" textLength="47.5" lengthAdjust="spacingAndGlyphs">Ammonia</text>
<text transform="rotate(0.05 264 894.5)" x="264" y="894.5" textLength="31" lengthAdjust="spacingAndGlyphs">Nitrite</text>
<text transform="rotate(0.05 364 894.5)" x="364" y="894.5" textLength="55" lengthAdjust="spacingAndGlyphs">Nitric oxide</text>
<text transform="rotate(0.05 729.5 192.5)" x="729.5" y="192.5" textLength="21.5" lengthAdjust="spacingAndGlyphs">CO<tspan style="font-size:9.5px">2</tspan></text>
<text transform="rotate(0.05 912.3 193)" x="912.3" y="193" textLength="31.5" lengthAdjust="spacingAndGlyphs">HCO<tspan style="font-size:9.5px">3-</tspan></text>
</g>
<g>
<rect x="889.35" y="23" width="13.45" height="23.6" fill="#00FF00"/>
<rect x="902.50" y="23" width="13.45" height="23.6" fill="#30EF30"/>
<rect x="915.66" y="23" width="13.45" height="23.6" fill="#5FDF5F"/>
<rect x="928.82" y="23" width="13.45" height="23.6" fill="#8FCF8F"/>
<rect x="941.97" y="23" width="13.45" height="23.6" fill="#BEBEBE"/>
<rect x="955.12" y="23" width="13.45" height="23.6" fill="#BEBEBE"/>
<rect x="968.28" y="23" width="13.45" height="23.6" fill="#CF8F8F"/>
<rect x="981.43" y="23" width="13.45" height="23.6" fill="#DF5F5F"/>
<rect x="994.59" y="23" width="13.45" height="23.6" fill="#EF3030"/>
<rect x="1007.75" y="23" width="13.15" height="23.6" fill="#FF0000"/>
<line x1="889.35" y1="23" x2="889.35" y2="52.5" stroke="#000" stroke-opacity="0.85" stroke-width="1"/>
<line x1="902.50" y1="23" x2="902.50" y2="52.5" stroke="#000" stroke-opacity="0.85" stroke-width="1"/>
<line x1="915.66" y1="23" x2="915.66" y2="52.5" stroke="#000" stroke-opacity="0.85" stroke-width="1"/>
<line x1="928.82" y1="23" x2="928.82" y2="52.5" stroke="#000" stroke-opacity="0.85" stroke-width="1"/>
<line x1="941.97" y1="23" x2="941.97" y2="52.5" stroke="#000" stroke-opacity="0.85" stroke-width="1"/>
<line x1="955.12" y1="23" x2="955.12" y2="52.5" stroke="#000" stroke-opacity="0.85" stroke-width="1"/>
<line x1="968.28" y1="23" x2="968.28" y2="52.5" stroke="#000" stroke-opacity="0.85" stroke-width="1"/>
<line x1="981.43" y1="23" x2="981.43" y2="52.5" stroke="#000" stroke-opacity="0.85" stroke-width="1"/>
<line x1="994.59" y1="23" x2="994.59" y2="52.5" stroke="#000" stroke-opacity="0.85" stroke-width="1"/>
<line x1="1007.75" y1="23" x2="1007.75" y2="52.5" stroke="#000" stroke-opacity="0.85" stroke-width="1"/>
<line x1="1020.90" y1="23" x2="1020.90" y2="52.5" stroke="#000" stroke-opacity="0.85" stroke-width="1"/>
<text class="sans" style="font-size:21px" x="879.5" y="77.5" textLength="16.8" lengthAdjust="spacingAndGlyphs">-1</text>
<text class="sans" style="font-size:21px" x="952" y="77.5">0</text>
<text class="sans" style="font-size:21px" x="1018.3" y="77.5" textLength="10.5" lengthAdjust="spacingAndGlyphs">1</text>
</g>
<text class="sans b" style="font-size:12.5px" x="17.5" y="913" textLength="124" lengthAdjust="spacingAndGlyphs">Data on KEGG graph</text>
<text class="sans b" style="font-size:12.5px" x="17.5" y="928" textLength="133.3" lengthAdjust="spacingAndGlyphs">Rendered by Pathview</text>
</svg></body></html>
